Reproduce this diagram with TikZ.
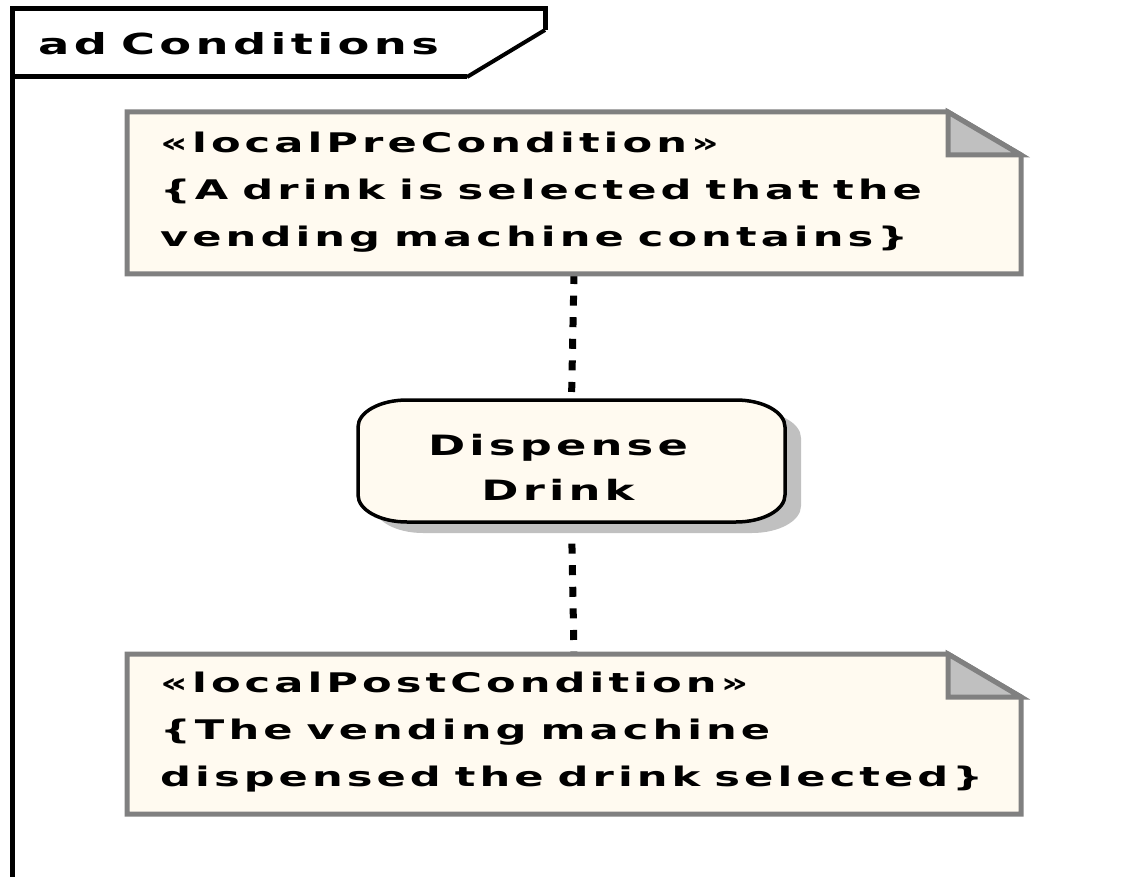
\documentclass[tikz,border=0pt]{standalone}
\usepackage{fontspec}
\usetikzlibrary{calc}
\newfontfamily\umlfont[FakeStretch=1.6,LetterSpace=15]{DejaVu Sans Bold}
% interword space for the letter-spaced face
\newcommand{\umlspace}{\fontdimen2\font=14pt\relax}

\definecolor{notefill}{RGB}{255,250,240}
\definecolor{noteedge}{RGB}{128,128,128}
\definecolor{foldfill}{RGB}{192,192,192}
\definecolor{shadowgray}{RGB}{192,192,192}

% outline of the action with elliptical corners, offset by (#1,#2)
\newcommand{\actoutline}[2]{%
  ($(act.north west)+(49+#1,#2)$) -- ($(act.north east)+(-49+#1,#2)$)
  arc[start angle=-90,end angle=0,x radius=49,y radius=27]
  -- ($(act.south east)+(#1,-27+#2)$)
  arc[start angle=0,end angle=90,x radius=49,y radius=27]
  -- ($(act.south west)+(49+#1,#2)$)
  arc[start angle=90,end angle=180,x radius=49,y radius=27]
  -- ($(act.north west)+(#1,27+#2)$)
  arc[start angle=180,end angle=270,x radius=49,y radius=27]
  -- cycle}

% note body with a folded top right corner
\newcommand{\noteoutline}[1]{%
  (#1.north west) -- ($(#1.north east)+(-73,0)$) -- ($(#1.north east)+(0,43)$)
  -- (#1.south east) -- (#1.south west) -- cycle}
\newcommand{\notefold}[1]{%
  ($(#1.north east)+(-73,0)$) -- ($(#1.north east)+(-73,43)$)
  -- ($(#1.north east)+(0,43)$) -- cycle}

\tikzset{
  placeholder/.style={draw=none,fill=none,inner sep=0pt,outer sep=0pt},
  frameline/.style={line width=5pt,draw=black,line join=miter},
  notebody/.style={fill=notefill,draw=noteedge,line width=5pt,line join=miter},
  notefoldstyle/.style={fill=foldfill,draw=noteedge,line width=5pt,line join=miter},
  actedge/.style={fill=notefill,draw=black,line width=3.5pt},
  actshadow/.style={fill=shadowgray},
  dotline/.style={draw=black,line width=7pt,dash pattern=on 10pt off 11.6pt},
  notetext/.style={anchor=base west,inner sep=0pt,text=black,
    font=\umlfont\fontsize{27}{33}\selectfont\umlspace},
  acttext/.style={anchor=base,inner sep=0pt,text=black,
    font=\umlfont\fontsize{28}{34}\selectfont\umlspace},
  titletext/.style={anchor=base west,inner sep=0pt,text=black,
    font=\umlfont\fontsize{29}{35}\selectfont\umlspace},
}

\begin{document}
\begin{tikzpicture}[x=1pt,y=-1pt]
\useasboundingbox[fill=white] (0,0) rectangle (1124,877);

% activity frame with its name tab
\draw[frameline] (12,877) -- (12,9) -- (545,9) -- (545,30);
\draw[frameline,line width=4pt] (545,30) -- (467,77);
\draw[frameline] (467,77) -- (12,77);
\node[titletext] (frametitle) at (38,55) {ad Conditions};

% node frames
\node[placeholder,minimum width=894,minimum height=162] (pre) at (574,193) {};
\node[placeholder,minimum width=427,minimum height=122] (act) at (571.5,461) {};
\node[placeholder,minimum width=894,minimum height=160] (post) at (574,734) {};

% dotted links between the constraints and the action
\draw[dotline] (pre.south) -- (act.north);
\draw[dotline] (act.south) -- (post.north);

% precondition note
\path[notebody] \noteoutline{pre};
\path[notefoldstyle] \notefold{pre};
\node[notetext] (pre1) at (160,153) {«localPreCondition»};
\node[notetext] (pre2) at (160,200) {\{A drink is selected that the};
\node[notetext] (pre3) at (160,247) {vending machine contains\}};

% action with its drop shadow
\path[actshadow] \actoutline{16}{11};
\path[actedge] \actoutline{0}{0};
\node[acttext] (act1) at (558,455) {Dispense};
\node[acttext] (act2) at (558,500) {Drink};

% postcondition note
\path[notebody] \noteoutline{post};
\path[notefoldstyle] \notefold{post};
\node[notetext] (post1) at (160,692) {«localPostCondition»};
\node[notetext] (post2) at (160,739) {\{The vending machine};
\node[notetext] (post3) at (160,786) {dispensed the drink selected\}};
\end{tikzpicture}
\end{document}
